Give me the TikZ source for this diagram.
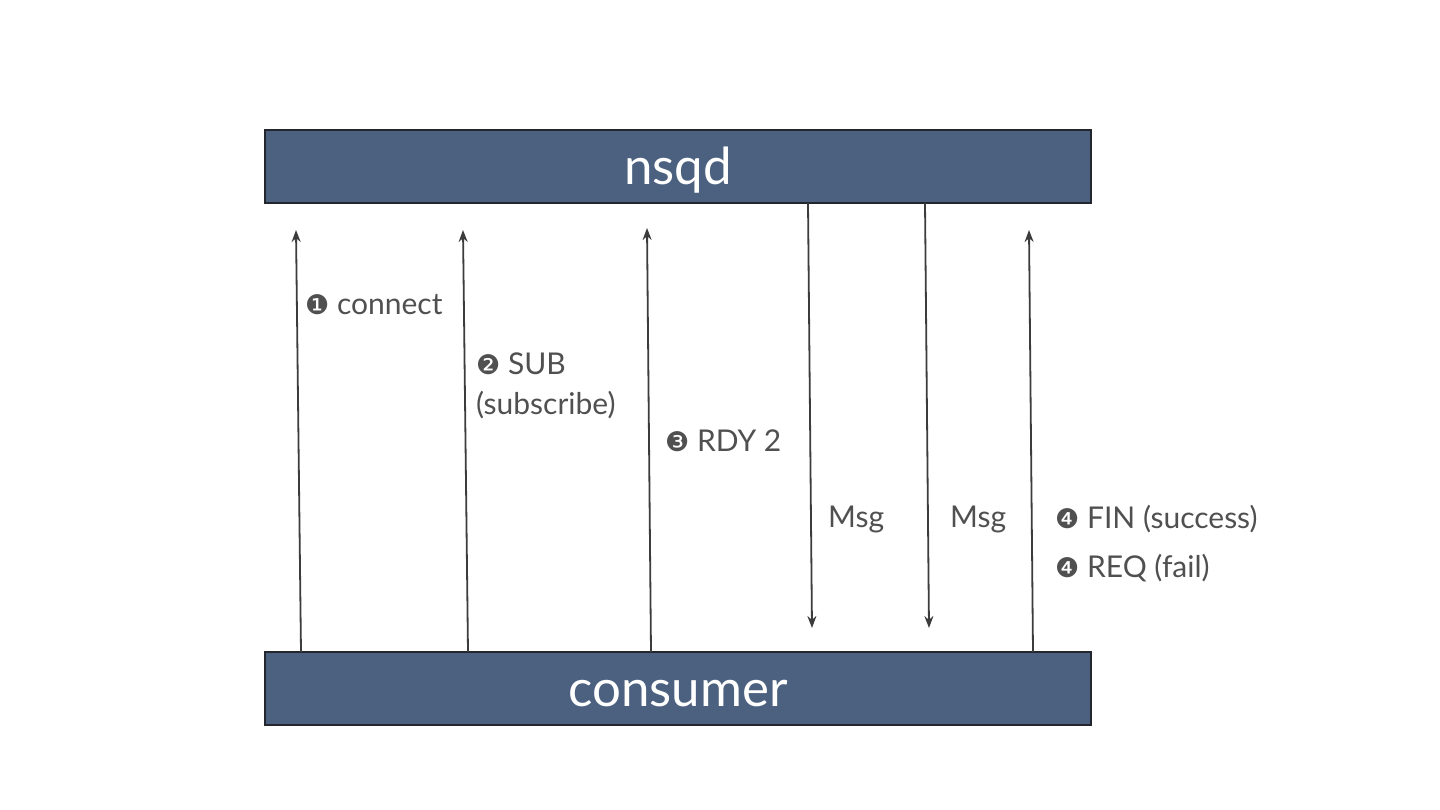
\documentclass[tikz,border=0pt]{standalone}
\usepackage{fontspec}
\setmainfont{Lato}
\newfontfamily\dingfont{DejaVu Sans}
\usetikzlibrary{arrows.meta}
\definecolor{barblue}{RGB}{76,97,128}
\definecolor{barline}{RGB}{35,38,45}
\definecolor{arrowgray}{RGB}{60,60,60}
\definecolor{labelgray}{RGB}{80,80,80}
\newcommand{\dg}[1]{{\dingfont\fontsize{27}{27}\selectfont #1}}
\tikzset{
  bar/.style={draw=barline, line width=2pt, fill=barblue, minimum width=826pt, minimum height=73pt, inner sep=0pt, text=white, text height=36pt, text depth=0pt, font=\fontsize{51}{51}\selectfont},
  msgarrow/.style={draw=arrowgray, line width=1.8pt, -{Stealth[length=12pt,width=9pt]}},
  lbl/.style={anchor=west, inner sep=0pt, text=labelgray, font=\fontsize{30}{40}\selectfont, align=left}
}
\begin{document}
\begin{tikzpicture}[x=1pt,y=-1pt]
\useasboundingbox[fill=white] (0,0) rectangle (1440,810);
\node[bar] (nsqd) at (678,166.5) {nsqd};
\node[bar] (consumer) at (678,688.5) {consumer};
% up arrow ends / down arrow ends
\coordinate (c1) at (301,652); \coordinate (t1) at (296,230);
\coordinate (c2) at (468,652); \coordinate (t2) at (463,230);
\coordinate (c3) at (651,652); \coordinate (t3) at (647,228);
\coordinate (s4) at (808,203); \coordinate (e4) at (812,628);
\coordinate (s5) at (925,203); \coordinate (e5) at (929,628);
\coordinate (c6) at (1033,652); \coordinate (t6) at (1029,230);
\draw[msgarrow] (c1) -- (t1);
\draw[msgarrow] (c2) -- (t2);
\draw[msgarrow] (c3) -- (t3);
\draw[msgarrow] (s4) -- (e4);
\draw[msgarrow] (s5) -- (e5);
\draw[msgarrow] (c6) -- (t6);
% labels
\node[lbl] (l1) at (305,305) {\dg{❶} connect};
\node[lbl] (l2) at (476,386) {\dg{❷} SUB\\(subscribe)};
\node[lbl] (l3) at (665,441) {\dg{❸} RDY 2};
\node[lbl] (l4) at (828,519) {Msg};
\node[lbl] (l5) at (950,519) {Msg};
\node[lbl] (l6) at (1055,519) {\dg{❹} FIN (success)};
\node[lbl] (l7) at (1055,568) {\dg{❹} REQ (fail)};
\end{tikzpicture}
\end{document}
